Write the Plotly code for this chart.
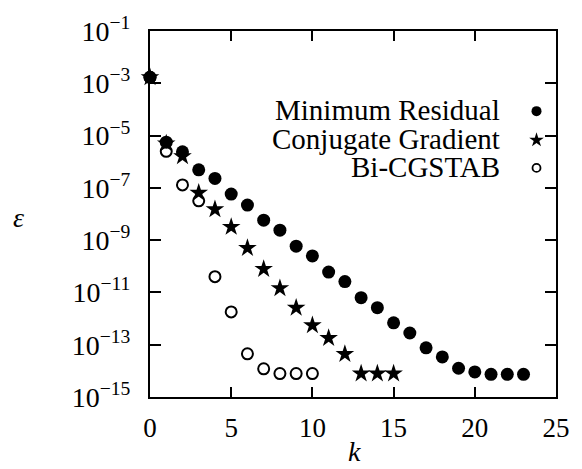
import plotly.graph_objects as go

k_mr = list(range(0, 24))
eps_mr = [1.7e-3, 5.6e-6, 2.4e-6, 4.9e-7, 2.3e-7, 5.8e-8, 2.2e-8, 5.8e-9, 2.4e-9,
          5.9e-10, 2.5e-10, 6.0e-11, 2.6e-11, 6.3e-12, 2.6e-12, 6.9e-13, 2.8e-13,
          7.6e-14, 3.4e-14, 1.26e-14, 9.1e-15, 7.4e-15, 7.4e-15, 7.4e-15]

k_cg = list(range(0, 16))
eps_cg = [1.7e-3, 5.0e-6, 1.6e-6, 6.5e-8, 1.5e-8, 3.2e-9, 5.0e-10, 7.9e-11,
          1.45e-11, 2.6e-12, 5.5e-13, 1.8e-13, 4.4e-14, 7.9e-15, 7.9e-15, 7.9e-15]

k_bi = list(range(0, 11))
eps_bi = [1.7e-3, 2.5e-6, 1.3e-7, 3.2e-8, 4.0e-11, 1.8e-12, 4.5e-14, 1.2e-14,
          7.9e-15, 7.9e-15, 7.9e-15]

series_names = ["Minimum Residual", "Conjugate Gradient", "Bi-CGSTAB"]
x_ticks = [0, 5, 10, 15, 20, 25]
y_exps = [-15, -13, -11, -9, -7, -5, -3, -1]

FONT = "Liberation Serif"
BLACK = "black"

fig = go.Figure()

fig.add_trace(go.Scatter(x=k_bi, y=eps_bi, mode="markers", name=series_names[2], cliponaxis=False,
                         marker=dict(symbol="circle-open", size=11, color=BLACK,
                                     line=dict(width=2, color=BLACK))))
fig.add_trace(go.Scatter(x=k_cg, y=eps_cg, mode="markers", name=series_names[1], cliponaxis=False,
                         marker=dict(symbol="star", size=14, color=BLACK, line=dict(width=0))))
fig.add_trace(go.Scatter(x=k_mr, y=eps_mr, mode="markers", name=series_names[0], cliponaxis=False,
                         marker=dict(symbol="circle", size=13, color=BLACK, line=dict(width=0))))

# legend (text left of symbol) drawn on an overlay axis with unit range
leg_y = [0.781, 0.702, 0.626]
leg_x = [0.952, 0.952, 0.952]
leg_sym = ["circle", "star", "circle-open"]
leg_size = [10, 11, 8]
for i in range(3):
    fig.add_trace(go.Scatter(x=[leg_x[i]], y=[leg_y[i]], mode="markers", xaxis="x2", yaxis="y2",
                             showlegend=False, hoverinfo="skip", cliponaxis=False,
                             marker=dict(symbol=leg_sym[i], size=leg_size[i], color=BLACK,
                                         line=dict(width=1.8 if leg_sym[i] == "circle-open" else 0,
                                                   color=BLACK))))
    fig.add_annotation(x=0.866, y=leg_y[i] + 0.003, xref="paper", yref="paper", text=series_names[i],
                       showarrow=False, xanchor="right", yanchor="middle",
                       font=dict(family=FONT, size=29, color=BLACK))

fig.add_annotation(x=-0.325, y=0.49, xref="paper", yref="paper", text="<i>ε</i>",
                   showarrow=False, xanchor="center", yanchor="middle",
                   font=dict(family=FONT, size=28, color=BLACK))
fig.add_annotation(x=0.503, y=-0.148, xref="paper", yref="paper", text="<i>k</i>",
                   showarrow=False, xanchor="center", yanchor="middle",
                   font=dict(family=FONT, size=28, color=BLACK))

fig.update_layout(
    width=582, height=469,
    margin=dict(l=150, r=14, t=19, b=72),
    paper_bgcolor="white", plot_bgcolor="white",
    showlegend=False,
    font=dict(family=FONT, size=27, color=BLACK),
    xaxis=dict(range=[0, 25], tickvals=x_ticks, ticktext=[str(v) for v in x_ticks],
               ticks="inside", ticklen=10, tickwidth=2, tickcolor=BLACK,
               showline=True, linewidth=2, linecolor=BLACK, mirror="ticks",
               showgrid=False, zeroline=False, ticklabelstandoff=6,
               tickfont=dict(family=FONT, size=27, color=BLACK)),
    yaxis=dict(type="log", range=[-15, -1], tickvals=[10.0 ** e for e in y_exps],
               ticktext=["10<sup>\u2212%d</sup>" % (-e) for e in y_exps],
               ticks="inside", ticklen=11, tickwidth=2, tickcolor=BLACK,
               showline=True, linewidth=2, linecolor=BLACK, mirror="ticks",
               showgrid=False, zeroline=False, ticklabelstandoff=12,
               tickfont=dict(family=FONT, size=28, color=BLACK)),
    xaxis2=dict(range=[0, 1], overlaying="x", visible=False, showgrid=False, zeroline=False),
    yaxis2=dict(range=[0, 1], overlaying="y", visible=False, showgrid=False, zeroline=False),
)

fig.write_html("out.html")
